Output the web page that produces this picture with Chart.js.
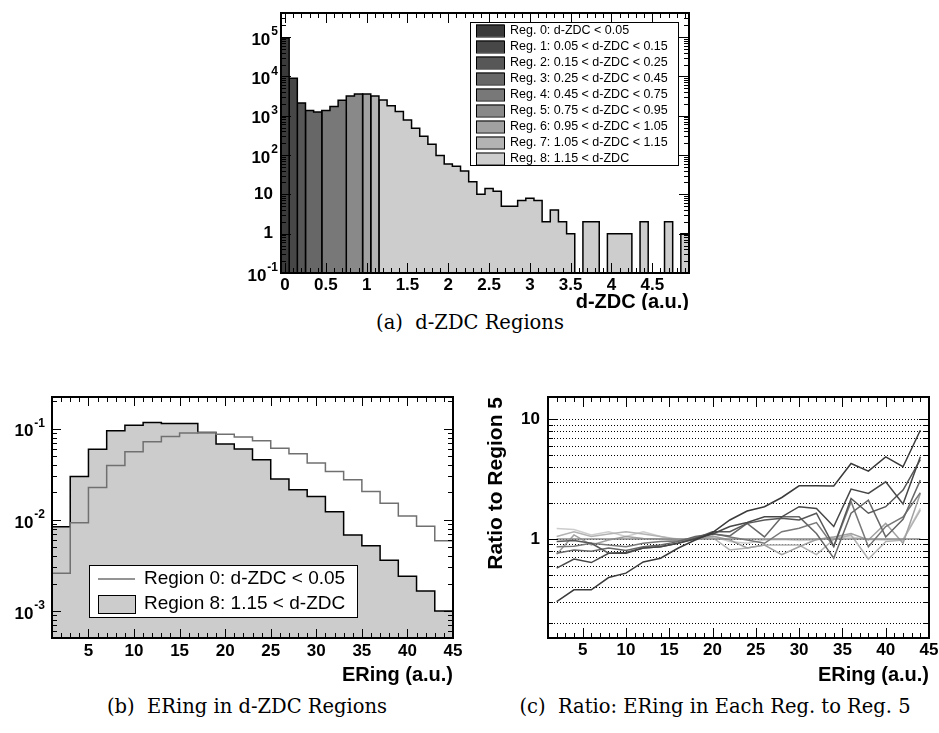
<!DOCTYPE html>
<html>
<head>
<meta charset="utf-8">
<script src="https://cdn.jsdelivr.net/npm/chart.js@4"></script>
<style>
body{margin:0;background:#fff;width:939px;height:733px;position:relative;overflow:hidden}
.box{position:absolute}
.box canvas{width:100%;height:100%}
.cap{position:absolute;font-family:"DejaVu Serif",serif;font-size:19.5px;color:#000;text-align:center;white-space:pre;line-height:24px}
</style>
</head>
<body>
<div class="box" style="left:215px;top:0;width:490px;height:310px"><canvas id="chartA"></canvas></div>
<div class="cap" style="left:270px;top:311px;width:400px">(a)  d-ZDC Regions</div>
<div class="box" style="left:0;top:380px;width:470px;height:310px"><canvas id="chartB"></canvas></div>
<div class="box" style="left:470px;top:380px;width:469px;height:310px"><canvas id="chartC"></canvas></div>
<div class="cap" style="left:27px;top:695px;width:440px">(b)  ERing in d-ZDC Regions</div>
<div class="cap" style="left:495px;top:695px;width:440px">(c)  Ratio: ERing in Each Reg. to Reg. 5</div>
<script>
// ---- (a) d-ZDC distribution, bins of 0.1 centred on 0 .. 4.9
const zdcCenters = [0,0.1,0.2,0.3,0.4,0.5,0.6,0.7,0.8,0.9,1,1.1,1.2,1.3,1.4,1.5,1.6,1.7,1.8,1.9,
  2,2.1,2.2,2.3,2.4,2.5,2.6,2.7,2.8,2.9,3,3.1,3.2,3.3,3.4,3.5,3.6,3.7,3.8,3.9,
  4,4.1,4.2,4.3,4.4,4.5,4.6,4.7,4.8,4.9]
const zdcCounts = [95000,9000,2100,1350,1240,1350,1700,2450,3150,3540,3540,3150,2500,1780,1270,780,480,300,187,97,
  59,52,39,21,10,14,12,5,5,7,8,7,2,4,2,1,0,2,2,0,
  1,1,1,0,2,0,0,2,0,1]
const zdcHalfBin = 0.05
const regionFirstBin = [0,1,2,3,5,8,10,11,12]
const regionNames = ['Reg. 0: d-ZDC < 0.05','Reg. 1: 0.05 < d-ZDC < 0.15','Reg. 2: 0.15 < d-ZDC < 0.25',
  'Reg. 3: 0.25 < d-ZDC < 0.45','Reg. 4: 0.45 < d-ZDC < 0.75','Reg. 5: 0.75 < d-ZDC < 0.95',
  'Reg. 6: 0.95 < d-ZDC < 1.05','Reg. 7: 1.05 < d-ZDC < 1.15','Reg. 8: 1.15 < d-ZDC']
const regionColors = ['#3a3a3a','#474747','#575757','#676767','#787878','#898989','#a1a1a1','#b3b3b3','#cdcdcd']
const zdcXTicks = [0,0.5,1,1.5,2,2.5,3,3.5,4,4.5]
const zdcXLabels = ['0','0.5','1','1.5','2','2.5','3','3.5','4','4.5']
const zdcYTicks = [0.1,1,10,100,1000,10000,100000]
const zdcYLabels = ['10^-1','1','10','10^2','10^3','10^4','10^5']
const zdcMin = 0.1, zdcMax = 4.08e5

// ---- (b) ERing in two regions, bins of 2 centred on 2 .. 44
const eringCenters = [2,4,6,8,10,12,14,16,18,20,22,24,26,28,30,32,34,36,38,40,42,44]
const eringReg0 = [0.0026,0.0093,0.0227,0.0395,0.0558,0.072,0.082,0.090,0.091,0.087,0.081,
  0.074,0.061,0.053,0.042,0.034,0.0275,0.0205,0.0152,0.011,0.0085,0.0059]
const eringReg8 = [0.0084,0.0299,0.0597,0.095,0.109,0.117,0.114,0.114,0.091,0.068,0.060,
  0.0456,0.028,0.0214,0.018,0.0123,0.0068,0.0052,0.0036,0.0024,0.00166,0.0010]
const eringHalfBin = 1
const eringXTicks = [5,10,15,20,25,30,35,40,45]
const eringXLabels = ['5','10','15','20','25','30','35','40','45']
const fracYTicks = [0.001,0.01,0.1]
const fracYLabels = ['10^-3','10^-2','10^-1']

// ---- (c) ratio of each region to region 5
const ratioReg0 = [0.30,0.376,0.376,0.476,0.518,0.643,0.69,0.836,0.98,1.13,1.44,1.71,1.86,2.22,2.78,2.78,2.77,4.27,3.69,4.85,4.01,8.10]
const ratioReg1 = [0.57,0.68,0.635,0.76,0.76,0.84,0.86,0.92,1.0,1.1,1.27,1.37,1.53,1.53,1.86,1.80,1.27,2.61,2.40,3.00,1.96,4.85]
const ratioReg2 = [0.95,0.97,0.92,0.76,0.77,0.84,0.86,0.92,1.01,1.15,1.15,1.35,1.44,1.49,1.44,1.64,0.87,2.18,1.64,1.86,2.56,4.60]
const ratioReg3 = [0.76,0.81,0.79,0.84,0.80,0.86,0.89,0.95,1.05,1.10,1.06,1.35,1.04,1.53,1.53,1.11,0.69,1.64,2.11,1.04,1.46,3.10]
const ratioReg4 = [0.86,0.87,0.92,0.89,0.86,0.92,0.95,0.96,1.03,1.11,1.04,0.98,0.92,1.15,1.23,1.37,0.86,2.05,0.86,1.27,1.53,2.43]
const ratioReg5 = [1,1,1,1,1,1,1,1,1,1,1,1,1,1,1,1,1,1,1,1,1,1]
const ratioReg6 = [0.745,1.08,0.89,0.98,1.05,1.01,1.0,0.97,1.0,1.06,0.98,0.84,0.89,0.74,0.86,0.99,1.04,1.11,0.98,1.35,0.92,2.40]
const ratioReg7 = [1.05,1.15,1.05,1.10,1.15,1.10,1.05,0.98,1.0,1.03,0.81,0.84,0.89,0.89,0.89,0.74,0.99,1.08,0.68,0.95,0.98,1.74]
const ratioReg8 = [1.22,1.20,1.08,1.15,1.05,1.15,1.05,1.0,0.98,1.05,0.95,0.92,0.98,0.99,0.97,0.98,1.04,1.04,0.99,0.98,0.99,1.80]
const ratioYTicks = [1,10]
const ratioYLabels = ['1','10']

const FONT = '"Liberation Sans", Arial, sans-serif'

// tick marks (axis decoration only)
function linTicks(first, last, step, majorStep){
  const t = []
  for(let i=0; first+i*step <= last+1e-9; i++){
    const v = first+i*step
    const r = v/majorStep
    t.push([v, Math.abs(r-Math.round(r)) < 1e-6])
  }
  return t
}
function logTicks(min, max){
  const t = []
  for(let e=Math.floor(Math.log10(min)); e<=Math.ceil(Math.log10(max)); e++){
    for(let k=1;k<=9;k++){
      const v = k*Math.pow(10,e)
      if(v>=min*0.999 && v<=max) t.push([v, k===1])
    }
  }
  return t
}

// ROOT-like frame: inner ticks, bold labels, axis titles, legend
const rootFrame = {
  id:'rootFrame',
  beforeDatasetsDraw(chart, args, o){
    if(!o.grid) return
    const ctx=chart.ctx, a=chart.chartArea, ys=chart.scales.y
    ctx.save()
    ctx.strokeStyle='#000'; ctx.lineWidth=1; ctx.setLineDash([1,2])
    o.grid.forEach(t=>{
      const y=Math.round(ys.getPixelForValue(t[0]))+0.5
      ctx.beginPath(); ctx.moveTo(a.left,y); ctx.lineTo(a.right,y); ctx.stroke()
    })
    ctx.restore()
  },
  afterDatasetsDraw(chart, args, o){
    const ctx=chart.ctx, a=chart.chartArea, xs=chart.scales.x, ys=chart.scales.y
    ctx.save()
    ctx.strokeStyle='#000'; ctx.lineWidth=1
    const seg=(x1,y1,x2,y2)=>{ctx.beginPath();ctx.moveTo(x1,y1);ctx.lineTo(x2,y2);ctx.stroke()}
    o.xTickMarks.forEach(t=>{
      const x=Math.round(xs.getPixelForValue(t[0]))+0.5, l=t[1]?o.major:o.minor
      seg(x,a.bottom,x,a.bottom-l); seg(x,a.top,x,a.top+l)
    })
    o.yTickMarks.forEach(t=>{
      const y=Math.round(ys.getPixelForValue(t[0]))+0.5, l=t[1]?o.major:o.minor
      seg(a.left,y,a.left+l,y); seg(a.right,y,a.right-l,y)
    })
    ctx.lineWidth=2
    ctx.strokeRect(a.left,a.top,a.right-a.left,a.bottom-a.top)

    ctx.fillStyle='#000'
    ctx.textBaseline='middle'
    ctx.font='bold 17px '+FONT
    ctx.textAlign='center'
    o.xValues.forEach((v,i)=>ctx.fillText(o.xLabels[i], xs.getPixelForValue(v), a.bottom+o.xLabelOff))
    o.yValues.forEach((v,i)=>{
      const y=ys.getPixelForValue(v), parts=o.yLabels[i].split('^')
      if(parts.length===1){
        ctx.textAlign='right'; ctx.font='bold 17px '+FONT
        ctx.fillText(parts[0], a.left-o.yGap, y)
      } else {
        ctx.font='bold 12px '+FONT
        const w=ctx.measureText(parts[1]).width
        ctx.textAlign='right'
        ctx.fillText(parts[1], a.left-o.expGap, y-5)
        ctx.font='bold 17px '+FONT
        ctx.fillText(parts[0], a.left-o.expGap-w-1, y+3)
      }
    })
    ctx.font='bold 20px '+FONT
    ctx.textAlign='right'
    ctx.fillText(o.xTitle, a.right, a.bottom+o.xTitleOff)
    if(o.yTitle){
      ctx.save()
      ctx.font='bold 21px '+FONT
      ctx.translate(o.yTitleX, a.top)
      ctx.rotate(-Math.PI/2)
      ctx.textAlign='right'
      ctx.fillText(o.yTitle, 0, 0)
      ctx.restore()
    }
    const lg=o.legend
    if(lg){
      ctx.fillStyle='#fff'; ctx.fillRect(lg.x,lg.y,lg.w,lg.h)
      ctx.lineWidth=1; ctx.strokeStyle='#000'
      ctx.strokeRect(lg.x+0.5,lg.y+0.5,lg.w,lg.h)
      ctx.font=lg.font; ctx.textAlign='left'
      lg.order.forEach((di,i)=>{
        const ds=chart.data.datasets[di], y=lg.rowY[i]
        if(lg.kinds[i]==='line'){
          ctx.strokeStyle=ds.borderColor; ctx.lineWidth=ds.borderWidth
          seg(lg.sx, y, lg.sx+lg.sw, y)
        } else {
          ctx.fillStyle=ds.backgroundColor
          ctx.fillRect(lg.sx, y-lg.sh/2, lg.sw, lg.sh)
          ctx.strokeStyle='#000'; ctx.lineWidth=1
          ctx.strokeRect(lg.sx+0.5, y-lg.sh/2+0.5, lg.sw, lg.sh)
        }
        ctx.fillStyle='#000'
        ctx.fillText(ds.label, lg.tx, y)
      })
    }
    ctx.restore()
  }
}

function baseOptions(xMin,xMax,yMin,yMax,pad,deco){
  return {
    responsive:true, maintainAspectRatio:false, animation:false, devicePixelRatio:1,
    layout:{padding:pad},
    elements:{point:{radius:0}},
    scales:{
      x:{type:'linear',display:false,min:xMin,max:xMax},
      y:{type:'logarithmic',display:false,min:yMin,max:yMax}
    },
    plugins:{legend:{display:false},tooltip:{enabled:false},rootFrame:deco}
  }
}

// (a) one step histogram per region, closed down to the axis at both ends
const zdcSets = regionFirstBin.map((first,r)=>{
  const last = r<regionFirstBin.length-1 ? regionFirstBin[r+1]-1 : zdcCenters.length-1
  const pts = [{x:zdcCenters[first]-zdcHalfBin, y:zdcMin}]
  for(let i=first;i<=last;i++) pts.push({x:zdcCenters[i]-zdcHalfBin, y:zdcCounts[i]>0?zdcCounts[i]:zdcMin})
  pts.push({x:zdcCenters[last]+zdcHalfBin, y:zdcMin})
  return {label:regionNames[r], data:pts, stepped:'before', fill:'start',
    backgroundColor:regionColors[r], borderColor:'#000', borderWidth:1.5}
})
new Chart('chartA',{
  type:'line',
  data:{datasets:zdcSets},
  plugins:[rootFrame],
  options:baseOptions(-0.05,4.95,zdcMin,zdcMax,{left:66,top:13,right:16,bottom:37},{
    xTickMarks:linTicks(0,4.9,0.1,0.5), yTickMarks:logTicks(zdcMin,zdcMax), major:10, minor:5,
    xValues:zdcXTicks, xLabels:zdcXLabels, yValues:zdcYTicks, yLabels:zdcYLabels,
    xLabelOff:12, yGap:8, expGap:3, xTitle:'d-ZDC (a.u.)', xTitleOff:29,
    legend:{x:255,y:22,w:208,h:143,sx:261,sw:28,sh:12,tx:295,font:'12.5px '+FONT,
      order:[0,1,2,3,4,5,6,7,8], kinds:['box','box','box','box','box','box','box','box','box'],
      rowY:[30.5,46.5,62.5,78.5,94.5,110.5,126.5,142.5,158.5]}
  })
})

// (b)
function stepPoints(vals){
  const pts = eringCenters.map((c,i)=>({x:c-eringHalfBin, y:vals[i]}))
  pts.push({x:eringCenters[eringCenters.length-1]+eringHalfBin, y:vals[vals.length-1]})
  return pts
}
new Chart('chartB',{
  type:'line',
  data:{datasets:[
    {label:'Region 0: d-ZDC < 0.05', data:stepPoints(eringReg0), stepped:'before', fill:false,
      borderColor:'#707070', borderWidth:1.5},
    {label:'Region 8: 1.15 < d-ZDC', data:stepPoints(eringReg8), stepped:'before', fill:'start',
      backgroundColor:'#cccccc', borderColor:'#000', borderWidth:1.5}
  ]},
  plugins:[rootFrame],
  options:baseOptions(1,45,5.05e-4,0.223,{left:52,top:17,right:17,bottom:52},{
    xTickMarks:linTicks(1,45,1,5), yTickMarks:logTicks(5.05e-4,0.223), major:9, minor:5,
    xValues:eringXTicks, xLabels:eringXLabels, yValues:fracYTicks, yLabels:fracYLabels,
    xLabelOff:13, yGap:8, expGap:7, xTitle:'ERing (a.u.)', xTitleOff:37,
    legend:{x:89,y:185,w:268,h:52,sx:98,sw:37,sh:18,tx:144,font:'19px '+FONT,
      order:[0,1], kinds:['line','box'], rowY:[199,224]}
  })
})

// (c)
const ratioSets = [ratioReg0,ratioReg1,ratioReg2,ratioReg3,ratioReg4,ratioReg5,ratioReg6,ratioReg7,ratioReg8]
new Chart('chartC',{
  type:'line',
  data:{datasets:ratioSets.map((vals,r)=>({
    label:'Region '+r, data:eringCenters.map((c,i)=>({x:c,y:vals[i]})),
    borderColor:regionColors[r], borderWidth:1.5, fill:false, tension:0}))},
  plugins:[rootFrame],
  options:baseOptions(1,45,0.1488,15.34,{left:78,top:17,right:10,bottom:52},{
    grid:logTicks(0.2,10),
    xTickMarks:linTicks(1,45,1,5), yTickMarks:logTicks(0.1488,15.34), major:10, minor:5,
    xValues:eringXTicks, xLabels:eringXLabels, yValues:ratioYTicks, yLabels:ratioYLabels,
    xLabelOff:12, yGap:8, expGap:3, xTitle:'ERing (a.u.)', xTitleOff:37,
    yTitle:'Ratio to Region 5', yTitleX:26
  })
})
</script>
</body>
</html>
